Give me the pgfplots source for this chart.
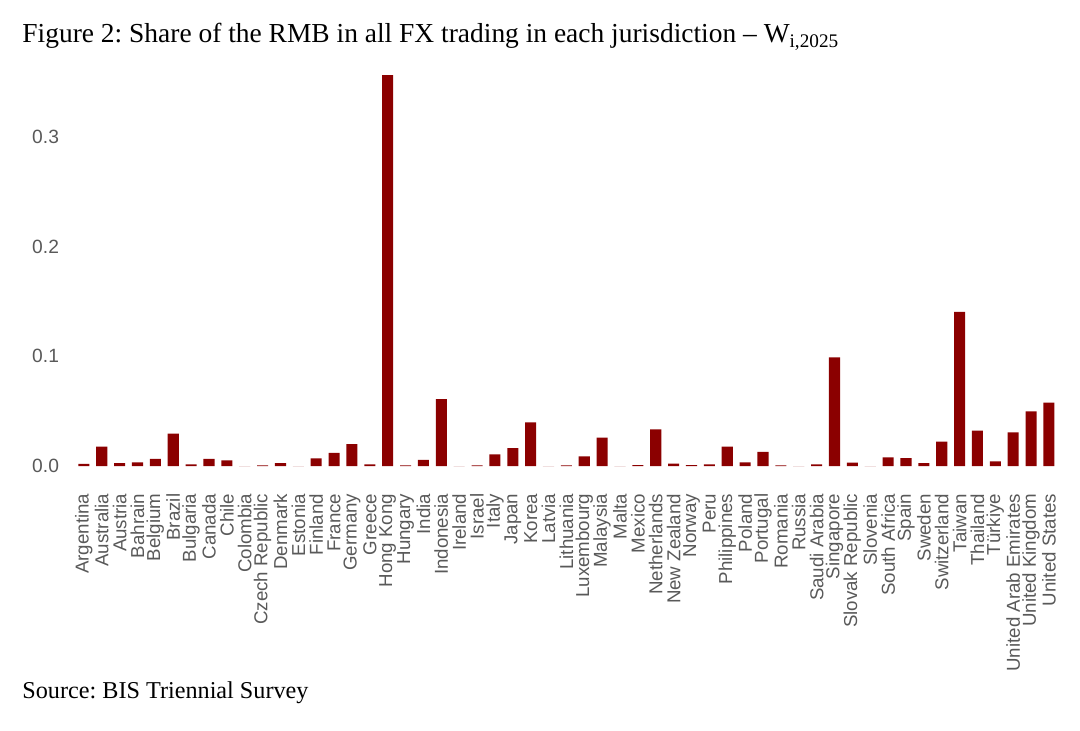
\documentclass[border=0pt]{standalone}
\usepackage{pgfplots}
\pgfplotsset{compat=1.18}
\usepackage{fontspec}
\setmainfont{Liberation Serif}
\newfontfamily\labfont{Liberation Sans}
\definecolor{barred}{HTML}{8B0000}
\definecolor{labgray}{HTML}{595959}
\frenchspacing
\pgfplotstableread{
x y
0 0.0020
1 0.0176
2 0.0027
3 0.0033
4 0.0064
5 0.0295
6 0.0015
7 0.0064
8 0.0052
9 0.0000
10 0.0005
11 0.0027
12 0.0000
13 0.0070
14 0.0119
15 0.0200
16 0.0015
17 0.3567
18 0.0005
19 0.0055
20 0.0610
21 0.0000
22 0.0005
23 0.0106
24 0.0164
25 0.0398
26 0.0000
27 0.0005
28 0.0088
29 0.0258
30 0.0000
31 0.0007
32 0.0334
33 0.0021
34 0.0007
35 0.0015
36 0.0176
37 0.0033
38 0.0128
39 0.0005
40 0.0000
41 0.0015
42 0.0990
43 0.0030
44 0.0000
45 0.0079
46 0.0073
47 0.0027
48 0.0222
49 0.1405
50 0.0322
51 0.0043
52 0.0307
53 0.0499
54 0.0578
}\datatable
\begin{document}
\begin{tikzpicture}
\useasboundingbox (0,0) rectangle (540pt,365.5pt);
\node[anchor=base west, inner sep=0pt, font=\fontsize{13.73}{16}\selectfont] at (11pt,344pt)
  {Figure 2: Share of the RMB in all FX trading in each jurisdiction -- W\textsubscript{i,2025}};
\node[anchor=base west, inner sep=0pt, font=\fontsize{12.1}{14}\selectfont] at (11pt,16pt)
  {Source: BIS Triennial Survey};
\begin{axis}[
  at={(33pt,130.3pt)}, anchor=south west,
  scale only axis,
  width=500.4pt, height=199.5pt,
  xmin=-1, xmax=55,
  ymin=-0.004, ymax=0.36,
  axis line style={draw=none},
  tick style={draw=none},
  ytick={0,0.1,0.2,0.3},
  yticklabels={0.0,0.1,0.2,0.3},
  yticklabel style={font=\labfont\fontsize{9.6}{11}\selectfont, text=labgray},
  xtick={0,...,54},
  xticklabels={Argentina,Australia,Austria,Bahrain,Belgium,Brazil,Bulgaria,Canada,Chile,Colombia,Czech Republic,Denmark,Estonia,Finland,France,Germany,Greece,Hong Kong,Hungary,India,Indonesia,Ireland,Israel,Italy,Japan,Korea,Latvia,Lithuania,Luxembourg,Malaysia,Malta,Mexico,Netherlands,New Zealand,Norway,Peru,Philippines,Poland,Portugal,Romania,Russia,Saudi Arabia,Singapore,Slovak Republic,Slovenia,South Africa,Spain,Sweden,Switzerland,Taiwan,Thailand,Türkiye,United Arab Emirates,United Kingdom,United States},
  xticklabel style={font=\labfont\fontsize{9.35}{11}\selectfont, text=labgray, rotate=90, anchor=east, inner sep=0pt, xshift=-11.5pt},
]
\addplot[ybar, bar width=0.62, fill=barred, draw=none, bar shift=0pt] table[x=x,y=y]{\datatable};
\end{axis}
\end{tikzpicture}
\end{document}
